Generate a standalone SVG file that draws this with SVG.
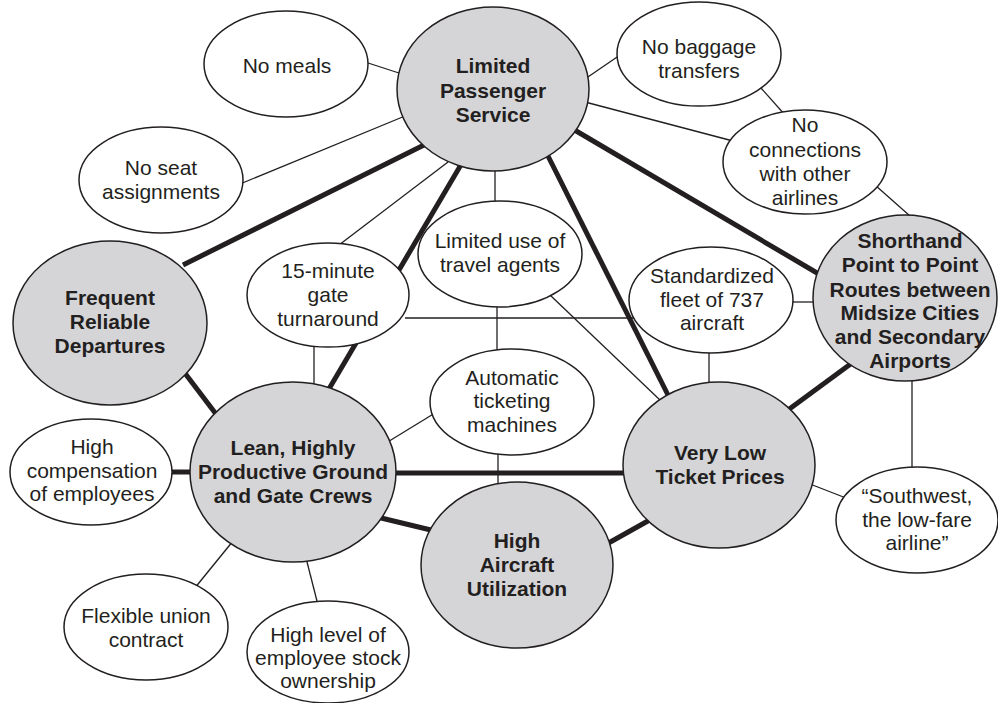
<svg xmlns="http://www.w3.org/2000/svg" width="998" height="703" viewBox="0 0 998 703">
  <style>
    .bg { fill: #ffffff; }
    .thick { stroke: #231f20; stroke-width: 5; fill: none; }
    .thin { stroke: #231f20; stroke-width: 1.3; fill: none; }
    .core { fill: #d5d5d8; stroke: #231f20; stroke-width: 1.5; }
    .leaf { fill: #ffffff; stroke: #231f20; stroke-width: 1.5; }
    text { font-family: "Liberation Sans", Arial, sans-serif; font-size: 21px; fill: #231f20; text-anchor: middle; }
    .b { font-weight: bold; }
  </style>
  <rect class="bg" x="0" y="0" width="998" height="703"/>

  <!-- connectors (drawn first, nodes sit on top) -->
  <g id="connectors">
    <line class="thick" x1="424" y1="145" x2="183" y2="265"/>
    <line class="thick" x1="462" y1="163" x2="326" y2="394"/>
    <line class="thick" x1="546" y1="152" x2="670" y2="399"/>
    <line class="thick" x1="572" y1="128.5" x2="823" y2="276.5"/>
    <line class="thick" x1="181" y1="368" x2="219" y2="418"/>
    <line class="thick" x1="168" y1="472" x2="196" y2="472"/>
    <line class="thick" x1="392" y1="473" x2="628" y2="473"/>
    <line class="thick" x1="377" y1="517" x2="435" y2="531"/>
    <line class="thick" x1="605" y1="545" x2="655" y2="517"/>
    <line class="thick" x1="788" y1="410" x2="856" y2="360"/>

    <line class="thin" x1="365" y1="62" x2="402" y2="74"/>
    <line class="thin" x1="240" y1="184" x2="405" y2="116"/>
    <line class="thin" x1="448" y1="162" x2="339" y2="245"/>
    <line class="thin" x1="495" y1="165" x2="495" y2="205"/>
    <line class="thin" x1="585" y1="79" x2="620" y2="55"/>
    <line class="thin" x1="585" y1="102" x2="733" y2="141"/>
    <line class="thin" x1="761" y1="88" x2="785" y2="115"/>
    <line class="thin" x1="875" y1="185" x2="910" y2="216"/>
    <line class="thin" x1="405" y1="318" x2="636" y2="318"/>
    <line class="thin" x1="790" y1="302" x2="818" y2="302"/>
    <line class="thin" x1="709" y1="350" x2="709" y2="385"/>
    <line class="thin" x1="497" y1="305" x2="497" y2="352"/>
    <line class="thin" x1="550" y1="295" x2="661" y2="401"/>
    <line class="thin" x1="314" y1="345" x2="314" y2="386"/>
    <line class="thin" x1="435" y1="413" x2="386" y2="443"/>
    <line class="thin" x1="498" y1="452" x2="498" y2="485"/>
    <line class="thin" x1="810" y1="484" x2="846" y2="498"/>
    <line class="thin" x1="912" y1="376" x2="912" y2="470"/>
    <line class="thin" x1="233" y1="541" x2="194" y2="589"/>
    <line class="thin" x1="306" y1="558" x2="318" y2="605"/>
  </g>

  <!-- core activity-system nodes -->
  <g id="limited-passenger-service">
    <ellipse class="core" cx="493" cy="89" rx="96" ry="82"/>
    <text class="b" x="493" y="73">Limited</text>
    <text class="b" x="493" y="98">Passenger</text>
    <text class="b" x="493" y="122">Service</text>
  </g>
  <g id="frequent-reliable-departures">
    <ellipse class="core" cx="110" cy="323" rx="97" ry="82"/>
    <text class="b" x="110" y="305">Frequent</text>
    <text class="b" x="110" y="329">Reliable</text>
    <text class="b" x="110" y="353">Departures</text>
  </g>
  <g id="shorthand-routes">
    <ellipse class="core" cx="905" cy="298" rx="92" ry="83"/>
    <text class="b" x="910" y="248">Shorthand</text>
    <text class="b" x="910" y="272">Point to Point</text>
    <text class="b" x="910" y="297">Routes between</text>
    <text class="b" x="910" y="320">Midsize Cities</text>
    <text class="b" x="910" y="344">and Secondary</text>
    <text class="b" x="910" y="368">Airports</text>
  </g>
  <g id="lean-crews">
    <ellipse class="core" cx="293" cy="472" rx="103" ry="90"/>
    <text class="b" x="293" y="455">Lean, Highly</text>
    <text class="b" x="293" y="479">Productive Ground</text>
    <text class="b" x="293" y="503">and Gate Crews</text>
  </g>
  <g id="very-low-ticket-prices">
    <ellipse class="core" cx="719" cy="465" rx="96" ry="83"/>
    <text class="b" x="720" y="460">Very Low</text>
    <text class="b" x="720" y="484">Ticket Prices</text>
  </g>
  <g id="high-aircraft-utilization">
    <ellipse class="core" cx="517" cy="565" rx="96" ry="83"/>
    <text class="b" x="517" y="548">High</text>
    <text class="b" x="517" y="572">Aircraft</text>
    <text class="b" x="517" y="596">Utilization</text>
  </g>

  <!-- supporting activity nodes -->
  <g id="no-meals">
    <ellipse class="leaf" cx="286" cy="64" rx="82" ry="53"/>
    <text x="287" y="73">No meals</text>
  </g>
  <g id="no-seat-assignments">
    <ellipse class="leaf" cx="161" cy="180" rx="82" ry="53"/>
    <text x="161" y="175">No seat</text>
    <text x="161" y="199">assignments</text>
  </g>
  <g id="no-baggage-transfers">
    <ellipse class="leaf" cx="699" cy="54" rx="82" ry="52"/>
    <text x="699" y="54">No baggage</text>
    <text x="699" y="78">transfers</text>
  </g>
  <g id="no-connections">
    <ellipse class="leaf" cx="805" cy="162" rx="82" ry="52"/>
    <text x="805" y="132">No</text>
    <text x="805" y="157">connections</text>
    <text x="805" y="181">with other</text>
    <text x="805" y="205">airlines</text>
  </g>
  <g id="gate-turnaround">
    <ellipse class="leaf" cx="328" cy="295" rx="81" ry="52"/>
    <text x="328" y="278">15-minute</text>
    <text x="328" y="302">gate</text>
    <text x="328" y="326">turnaround</text>
  </g>
  <g id="travel-agents">
    <ellipse class="leaf" cx="500" cy="254" rx="82" ry="53"/>
    <text x="500" y="248">Limited use of</text>
    <text x="500" y="272">travel agents</text>
  </g>
  <g id="standardized-fleet">
    <ellipse class="leaf" cx="711" cy="300" rx="82" ry="53"/>
    <text x="712" y="283">Standardized</text>
    <text x="712" y="307">fleet of 737</text>
    <text x="712" y="330">aircraft</text>
  </g>
  <g id="ticketing-machines">
    <ellipse class="leaf" cx="512" cy="402" rx="82" ry="53"/>
    <text x="512" y="385">Automatic</text>
    <text x="512" y="408">ticketing</text>
    <text x="512" y="432">machines</text>
  </g>
  <g id="high-compensation">
    <ellipse class="leaf" cx="91" cy="472" rx="81" ry="53"/>
    <text x="92" y="454">High</text>
    <text x="92" y="478">compensation</text>
    <text x="92" y="501">of employees</text>
  </g>
  <g id="southwest-slogan">
    <ellipse class="leaf" cx="917" cy="520" rx="81" ry="53"/>
    <text x="917" y="503">“Southwest,</text>
    <text x="917" y="527">the low-fare</text>
    <text x="917" y="550">airline”</text>
  </g>
  <g id="flexible-union-contract">
    <ellipse class="leaf" cx="146" cy="627" rx="82" ry="53"/>
    <text x="146" y="623">Flexible union</text>
    <text x="146" y="647">contract</text>
  </g>
  <g id="employee-stock-ownership">
    <ellipse class="leaf" cx="328" cy="652" rx="81" ry="51"/>
    <text x="328" y="642">High level of</text>
    <text x="328" y="665">employee stock</text>
    <text x="328" y="688">ownership</text>
  </g>
</svg>
